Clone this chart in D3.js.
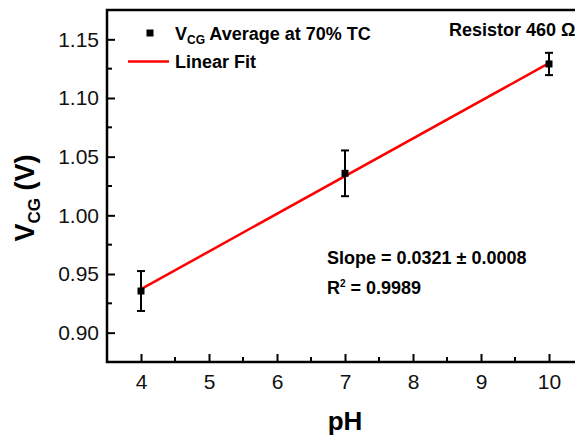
<!DOCTYPE html>
<html>
<head>
<meta charset="utf-8">
<script src="https://cdn.jsdelivr.net/npm/d3@7"></script>
<style>
  body { margin: 0; background: #fff; }
  svg { display: block; font-family: Arial, "Liberation Sans", sans-serif; }
</style>
</head>
<body>
<div class="chart"></div>
<script>
// data
const pH = [4, 7, 10];
const vcg = [0.9355, 1.0358, 1.1290];
const vcgErr = [0.0170, 0.0195, 0.0095];
const fitSlope = 0.0321;
const fitIntercept = 0.8087;
const xTicks = [4, 5, 6, 7, 8, 9, 10];
const yTicks = [0.90, 0.95, 1.00, 1.05, 1.10, 1.15];

const width = 575, height = 439;
const margin = { left: 107, top: 10, right: -8, bottom: 77 };

const svg = d3.select('.chart').append('svg').attr('width', width).attr('height', height);

const x = d3.scaleLinear().domain([3.5, 10.5]).range([margin.left, width - margin.right]);
const y = d3.scaleLinear().domain([0.875, 1.175]).range([height - margin.bottom, margin.top]);

// minor ticks at halves
const xMinor = d3.range(3.5, 10.6, 0.5).filter(v => !xTicks.includes(v));
const yMinor = d3.range(0.875, 1.176, 0.025).map(v => +v.toFixed(3)).filter(v => !yTicks.some(t => Math.abs(t - v) < 1e-6));

const gx = svg.append('g').attr('transform', `translate(0,${y(0.875)})`);
gx.call(d3.axisBottom(x).tickValues(xTicks).tickSize(-8).tickPadding(12).tickFormat(d3.format('d')));
gx.append('g').selectAll('line').data(xMinor).join('line')
	.attr('x1', d => x(d)).attr('x2', d => x(d)).attr('y1', 0).attr('y2', -5)
	.attr('stroke', '#000').attr('stroke-width', 2);

const gy = svg.append('g').attr('transform', `translate(${x(3.5)},0)`);
gy.call(d3.axisLeft(y).tickValues(yTicks).tickSize(-8).tickPadding(8).tickFormat(d3.format('.2f')));
gy.append('g').selectAll('line').data(yMinor).join('line')
	.attr('y1', d => y(d)).attr('y2', d => y(d)).attr('x1', 0).attr('x2', 5)
	.attr('stroke', '#000').attr('stroke-width', 2);

[gx, gy].forEach(g => {
	g.select('.domain').remove();
	g.selectAll('.tick line').attr('stroke', '#000').attr('stroke-width', 2);
	g.selectAll('.tick text').attr('fill', '#111').style('font-size', '21px');
});

// frame
svg.append('rect')
	.attr('x', x(3.5)).attr('y', y(1.175))
	.attr('width', x(10.5) - x(3.5)).attr('height', y(0.875) - y(1.175))
	.attr('fill', 'none').attr('stroke', '#000').attr('stroke-width', 2.5);

// linear fit
svg.append('line')
	.attr('x1', x(4)).attr('y1', y(fitIntercept + fitSlope * 4))
	.attr('x2', x(10)).attr('y2', y(fitIntercept + fitSlope * 10))
	.attr('stroke', '#ff0000').attr('stroke-width', 2.5);

// error bars + points
const pts = pH.map((p, i) => ({ p, v: vcg[i], e: vcgErr[i] }));
const eb = svg.append('g').attr('stroke', '#000').attr('stroke-width', 2);
pts.forEach(d => {
	eb.append('line').attr('x1', x(d.p)).attr('x2', x(d.p)).attr('y1', y(d.v - d.e)).attr('y2', y(d.v + d.e));
	eb.append('line').attr('x1', x(d.p) - 4).attr('x2', x(d.p) + 4).attr('y1', y(d.v - d.e)).attr('y2', y(d.v - d.e));
	eb.append('line').attr('x1', x(d.p) - 4).attr('x2', x(d.p) + 4).attr('y1', y(d.v + d.e)).attr('y2', y(d.v + d.e));
});
svg.append('g').selectAll('rect').data(pts).join('rect')
	.attr('x', d => x(d.p) - 3.5).attr('y', d => y(d.v) - 3.5)
	.attr('width', 7).attr('height', 7).attr('fill', '#000');

// legend
svg.append('rect').attr('x', 146.5).attr('y', 29.5).attr('width', 7).attr('height', 7).attr('fill', '#000');
const lt = svg.append('text').attr('x', 175).attr('y', 40).attr('font-weight', 'bold').style('font-size', '18px');
lt.append('tspan').text('V');
lt.append('tspan').attr('dy', 4).style('font-size', '12px').text('CG');
lt.append('tspan').attr('dy', -4).text(' Average at 70% TC');
svg.append('line').attr('x1', 128).attr('x2', 169).attr('y1', 61.5).attr('y2', 61.5)
	.attr('stroke', '#ff0000').attr('stroke-width', 2.5);
svg.append('text').attr('x', 175).attr('y', 68).attr('font-weight', 'bold').style('font-size', '18px').text('Linear Fit');

svg.append('text').attr('x', 449).attr('y', 36).attr('font-weight', 'bold').style('font-size', '18px').text('Resistor 460 Ω');

// fit annotation
svg.append('text').attr('x', 327).attr('y', 264).attr('font-weight', 'bold').style('font-size', '18px')
	.text('Slope = 0.0321 ± 0.0008');
const r2 = svg.append('text').attr('x', 327).attr('y', 294).attr('font-weight', 'bold').style('font-size', '18px');
r2.append('tspan').text('R');
r2.append('tspan').attr('dy', -7).style('font-size', '10px').text('2');
r2.append('tspan').attr('dy', 7).text(' = 0.9989');

// axis titles
svg.append('text').attr('x', x(7)).attr('y', 430).attr('text-anchor', 'middle')
	.attr('font-weight', 'bold').style('font-size', '26px').text('pH');
const yt = svg.append('text').attr('transform', `translate(34,198) rotate(-90)`)
	.attr('text-anchor', 'middle').attr('font-weight', 'bold').style('font-size', '27px');
yt.append('tspan').text('V');
yt.append('tspan').attr('dy', 6).style('font-size', '17px').text('CG');
yt.append('tspan').attr('dy', -6).text(' (V)');
</script>
</body>
</html>
